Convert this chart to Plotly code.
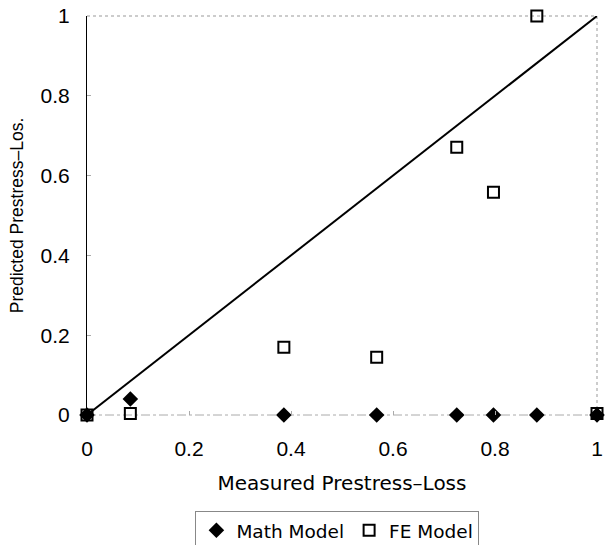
import plotly.graph_objects as go

# Data
measured_math = [0.0, 0.085, 0.386, 0.568, 0.725, 0.797, 0.882, 1.0]
predicted_math = [0.0, 0.040, 0.0, 0.0, 0.0, 0.0, 0.0, 0.0]
measured_fe = [0.0, 0.085, 0.386, 0.568, 0.725, 0.797, 0.882, 1.0]
predicted_fe = [0.0, 0.004, 0.170, 0.145, 0.671, 0.558, 1.0, 0.004]
line_x = [0.0, 1.0]
line_y = [0.0, 1.0]
tick_vals = [0, 0.2, 0.4, 0.6, 0.8, 1]
tick_text = ["0", "0.2", "0.4", "0.6", "0.8", "1"]

FONT = "Liberation Sans, Arial, sans-serif"
WIDE = "DejaVu Sans, Verdana, sans-serif"

fig = go.Figure()
fig.add_trace(go.Scatter(x=line_x, y=line_y, mode="lines",
                         line=dict(color="black", width=2),
                         showlegend=False, hoverinfo="skip", cliponaxis=False))
fig.add_trace(go.Scatter(x=measured_math, y=predicted_math, mode="markers",
                         name="Math Model", cliponaxis=False,
                         marker=dict(symbol="diamond", size=12, color="black",
                                     line=dict(width=0))))
fig.add_trace(go.Scatter(x=measured_fe, y=predicted_fe, mode="markers",
                         name="FE Model", cliponaxis=False,
                         marker=dict(symbol="square-open", size=11, color="black",
                                     line=dict(width=2, color="black"))))

# Frame lines (dotted top/right, dashed baseline)
fig.add_shape(type="line", xref="paper", yref="paper", x0=0, x1=1, y0=1, y1=1,
              line=dict(color="#999", width=1, dash="dot"), layer="below")
fig.add_shape(type="line", xref="paper", yref="paper", x0=1, x1=1, y0=0, y1=1,
              line=dict(color="#999", width=1, dash="dot"), layer="below")
fig.add_shape(type="line", xref="paper", yref="paper", x0=0, x1=1, y0=0, y1=0,
              line=dict(color="#aaa", width=1, dash="dashdot"), layer="below")

fig.update_layout(
    width=608, height=545,
    margin=dict(l=87, r=11, t=16, b=130, autoexpand=False),
    paper_bgcolor="white", plot_bgcolor="white",
    font=dict(family=FONT, size=18, color="black"),
    showlegend=True,
    legend=dict(orientation="h", x=0.491, xanchor="center", y=-0.24, yanchor="top",
                bordercolor="#888", borderwidth=1,
                font=dict(family=WIDE, size=18.5),
                itemwidth=30, tracegroupgap=0),
    xaxis=dict(range=[0, 1], tickvals=tick_vals, ticktext=tick_text,
               automargin=False,
               showgrid=False, zeroline=False, showline=False,
               ticks="inside", ticklen=4, tickcolor="#aaa",
               ticklabelstandoff=19, tickfont=dict(size=21),
               title=dict(text="Measured Prestress–Loss", standoff=16,
                          font=dict(family=WIDE, size=20))),
    yaxis=dict(range=[0, 1], tickvals=tick_vals, ticktext=tick_text,
               automargin=False,
               showgrid=False, zeroline=False, showline=True,
               linecolor="black", linewidth=1,
               ticks="inside", ticklen=4, tickcolor="#aaa",
               ticklabelstandoff=12, tickfont=dict(size=21),
               title=dict(text="Predicted Prestress–Los.", standoff=12,
                          font=dict(size=17.5))),
)

fig.write_html("out.html")
